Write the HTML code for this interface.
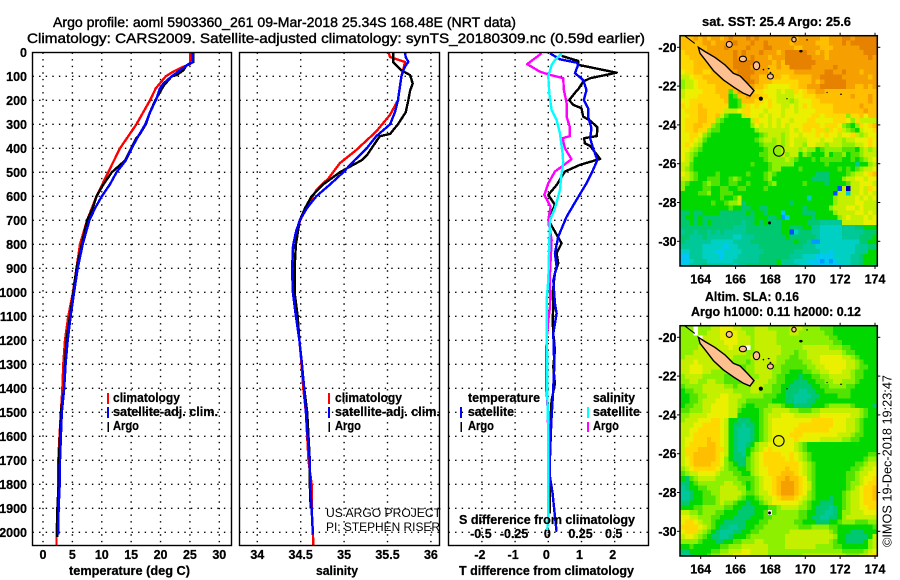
<!DOCTYPE html>
<html lang="en">
<head>
<meta charset="utf-8">
<title>Argo profile 5903360_261</title>
<style>
html,body{margin:0;padding:0;background:#fff;width:900px;height:580px;overflow:hidden}
svg{display:block}
text{font-family:"Liberation Sans",sans-serif;fill:#000}
.b{font-weight:bold;font-size:12.5px;stroke:#000;stroke-width:.25px}
.t{font-size:14px;stroke:#000;stroke-width:.4px}
</style>
</head>
<body>
<svg id="chart" xmlns="http://www.w3.org/2000/svg" width="900" height="580" viewBox="0 0 900 580">
<text class="t" x="53" y="27" textLength="463" lengthAdjust="spacingAndGlyphs">Argo profile: aoml 5903360_261 09-Mar-2018 25.34S 168.48E (NRT data)</text>
<text class="t" x="27" y="43" textLength="618" lengthAdjust="spacingAndGlyphs">Climatology: CARS2009. Satellite-adjusted climatology: synTS_20180309.nc (0.59d earlier)</text>

<g id="gridLayer"></g>
<g id="tickLayer"></g>
<g id="lineLayer"></g>

<rect x="32.5" y="52.5" width="199" height="493" fill="none" stroke="#000" stroke-width="1.4"/>
<rect x="239.5" y="52.5" width="200" height="493" fill="none" stroke="#000" stroke-width="1.4"/>
<rect x="448.5" y="52.5" width="200" height="493" fill="none" stroke="#000" stroke-width="1.4"/>

<text class="b" x="69" y="575" textLength="121" lengthAdjust="spacingAndGlyphs">temperature (deg C)</text>
<text class="b" x="316" y="575" textLength="42" lengthAdjust="spacingAndGlyphs">salinity</text>
<text class="b" x="459" y="575" textLength="175" lengthAdjust="spacingAndGlyphs">T difference from climatology</text>
<text class="b" x="459" y="524" textLength="176" lengthAdjust="spacingAndGlyphs">S difference from climatology</text>

<g>
<rect x="107" y="393" width="2" height="11" fill="#f00"/>
<text class="b" x="113" y="402" textLength="67" lengthAdjust="spacingAndGlyphs">climatology</text>
<rect x="107" y="407" width="2" height="11" fill="#00f"/>
<text class="b" x="113" y="416" textLength="105" lengthAdjust="spacingAndGlyphs">satellite-adj. clim.</text>
<rect x="107.5" y="422" width="1.5" height="10" fill="#000"/>
<text class="b" x="113" y="430" textLength="26" lengthAdjust="spacingAndGlyphs">Argo</text>
</g>
<g>
<rect x="328" y="393" width="2" height="11" fill="#f00"/>
<text class="b" x="335" y="402" textLength="67" lengthAdjust="spacingAndGlyphs">climatology</text>
<rect x="328" y="407" width="2" height="11" fill="#00f"/>
<text class="b" x="335" y="416" textLength="105" lengthAdjust="spacingAndGlyphs">satellite-adj. clim.</text>
<rect x="328.5" y="422" width="1.5" height="10" fill="#000"/>
<text class="b" x="335" y="430" textLength="26" lengthAdjust="spacingAndGlyphs">Argo</text>
</g>
<g>
<text class="b" x="468" y="402" textLength="72" lengthAdjust="spacingAndGlyphs">temperature</text>
<rect x="460" y="407" width="2" height="11" fill="#00f"/>
<text class="b" x="468" y="416" textLength="46" lengthAdjust="spacingAndGlyphs">satellite</text>
<rect x="460.5" y="422" width="1.5" height="10" fill="#000"/>
<text class="b" x="468" y="430" textLength="26" lengthAdjust="spacingAndGlyphs">Argo</text>
<text class="b" x="593" y="402" textLength="42" lengthAdjust="spacingAndGlyphs">salinity</text>
<rect x="587" y="407" width="2" height="11" fill="#0ff"/>
<text class="b" x="593" y="416" textLength="47" lengthAdjust="spacingAndGlyphs">satellite</text>
<rect x="587" y="422" width="2" height="10" fill="#f0f"/>
<text class="b" x="593" y="430" textLength="26" lengthAdjust="spacingAndGlyphs">Argo</text>
</g>

<text x="326" y="517" font-size="12" textLength="115" lengthAdjust="spacingAndGlyphs">US ARGO PROJECT</text>
<text x="326" y="531" font-size="12" textLength="114" lengthAdjust="spacingAndGlyphs">PI: STEPHEN RISER</text>

<g id="mapLayer"></g>

<text class="b" x="702" y="26" textLength="149" lengthAdjust="spacingAndGlyphs">sat. SST: 25.4 Argo: 25.6</text>
<text class="b" x="705" y="301" textLength="94" lengthAdjust="spacingAndGlyphs">Altim. SLA: 0.16</text>
<text class="b" x="691" y="316" textLength="170" lengthAdjust="spacingAndGlyphs">Argo h1000: 0.11 h2000: 0.12</text>
<text x="891.5" y="547" font-size="12.5" textLength="172" lengthAdjust="spacingAndGlyphs" transform="rotate(-90 891.5 547)">©IMOS 19-Dec-2018 19:23:47</text>
</svg>

<script>
// ---- axis tick data ----
const depthTicks = [0,100,200,300,400,500,600,700,800,900,1000,1100,1200,1300,1400,1500,1600,1700,1800,1900,2000];
const tempTicks = [0,5,10,15,20,25,30];
const salTicks = [34,34.5,35,35.5,36];
const diffTTicks = [-2,-1,0,1,2];
const diffSTicks = [-0.5,-0.25,0,0.25,0.5];
const diffTLabels = ['-2','-1','0','1','2'];
const diffSLabels = ['-0.5','-0.25','0','0.25','0.5'];
const lonTicks = [164,166,168,170,172,174];
const latTicks = [-20,-22,-24,-26,-28,-30];

// ---- temperature profiles ----
const tempClimDepth = [0,50,60,80,100,150,200,300,400,500,600,700,800,900,1000,1100,1200,1300,1400,1500,1600,1700,1800,1900,2000,2055];
const tempClimValues = [25.1,25,23.9,22.2,20.9,19.2,18.2,15.9,13.1,11.1,9.1,7.5,6.3,5.7,5.1,4.3,3.75,3.45,3.3,3.05,2.8,2.6,2.6,2.5,2.3,2.3];
const tempSatDepth = [0,40,50,70,100,130,150,200,250,300,350,400,450,500,550,600,650,700,800,900,1000,1100,1200,1300,1400,1500,1600,1700,1800,1900,2010];
const tempSatValues = [25.5,25.5,24.7,23.6,21.9,20.5,19.9,19.2,18.2,17.4,16.2,15.1,14.1,12.5,11.4,10,8.85,7.9,6.75,5.9,5.3,4.7,4.2,3.85,3.6,3.2,3.05,2.9,2.85,2.65,2.6];
const tempArgoDepth = [0,40,55,75,95,100,140,170,200,250,300,340,360,400,450,500,550,600,650,700,800,900,1000,1100,1200,1300,1400,1500,1600,1700,1800,1900,2020];
const tempArgoValues = [25.6,25.6,24.4,23.9,22.7,21.9,20.5,19.8,19.1,18.2,17.5,16.5,15.8,15,14,11.7,10.3,9.1,8.45,7.5,6.6,5.7,5.15,4.6,4,3.75,3.6,3.05,2.9,2.7,2.65,2.45,2.45];

// ---- salinity profiles ----
const salClimDepth = [0,20,40,60,100,200,260,330,407,462,525,574,670,740,810,893,1000,1100,1200,1300,1400,1500,1600,1700,1800,1900,2000,2055];
const salClimValues = [35.51,35.53,35.7,35.69,35.66,35.62,35.53,35.37,35.14,34.95,34.82,34.68,34.53,34.45,34.41,34.41,34.41,34.445,34.485,34.51,34.53,34.56,34.575,34.59,34.625,34.625,34.64,34.645];
const salSatDepth = [0,20,40,60,100,150,200,250,300,350,400,450,500,550,600,650,700,750,800,900,1000,1100,1200,1300,1400,1500,1600,1700,1800,1900,2010];
const salSatValues = [35.7,35.71,35.74,35.7,35.66,35.64,35.62,35.585,35.53,35.37,35.26,35.12,34.99,34.84,34.68,34.57,34.49,34.445,34.415,34.4,34.41,34.445,34.485,34.515,34.54,34.56,34.58,34.605,34.61,34.625,34.64];
const salArgoDepth = [0,40,55,75,95,130,160,200,250,300,340,350,390,430,450,480,500,550,600,650,700,800,900,1000,1100,1200,1300,1400,1500,1600,1700,1800,1900];
const salArgoValues = [35.565,35.565,35.605,35.66,35.76,35.79,35.76,35.74,35.71,35.62,35.53,35.41,35.335,35.26,35.2,35.05,34.95,34.76,34.625,34.55,34.49,34.445,34.43,34.43,34.465,34.485,34.515,34.54,34.575,34.59,34.605,34.605,34.615];

// ---- difference profiles ----
const dTArgoDepth = [15,36,52,85,108,122,154,164,199,219,233,268,285,312,349,358,379,390,444,469,497,553,594,636,699,796,837,879,921,1004,1061,1116,1172,1241,1311,1380,1450,1519,1616,1686,1783,1866,1922];
const dTArgoValues = [0.4,0.9,0.9,2.06,1.26,1.05,0.9,0.83,0.63,0.75,1,1.05,1.26,1.48,1.46,1.08,1.1,1.26,1.56,0.95,0.5,0.25,0,0.2,0,0.4,0.25,0.3,0.2,0.13,0.15,0.13,0.15,0.2,0.15,0.2,0.1,0.07,0.07,0.05,0.03,0.05,0.05];
const dTSatDepth = [4,29,43,52,87,115,157,199,233,268,317,358,400,449,504,546,615,685,768,837,893,949,1046,1088,1172,1311,1450,1519,1658,1769,1838,1908,1998];
const dTSatValues = [0.05,0.35,0.85,0.9,0.8,1.05,1.15,1.07,1.2,1.2,1.3,1.26,1.35,1.48,1.3,1.15,0.85,0.55,0.3,0.2,0.25,0.15,0.2,0.25,0.15,0.18,0.13,0.1,0.05,0.05,0.13,0.18,0.25];
const dSArgoDepth = [4,49,81,92,108,157,212,268,312,349,358,400,446,497,546,594,643,699,782,921,1060,1116,1199,1297,1394,1450,1589,1922];
const dSArgoValues = [-0.05,-0.16,-0.0625,0,0.1125,0.1175,0.1375,0.1375,0.1625,0.1625,0.1075,0.125,0.175,0.05,0,-0.03,0.0175,0,0.025,0.0125,0.0125,0,-0.0125,-0.0175,-0.0175,-0.0075,0,0];
const dSSatDepth = [4,32,53,101,171,240,282,337,421,462,504,574,650,699,837,949,1032,1116,1311,1422,1589,1922,1991];
const dSSatValues = [0.1,0.05,0.025,0,0.0075,0.025,0.0625,0.0875,0.1075,0.1125,0.1,0.0875,0.05,0.0125,0.005,0,-0.0125,-0.0125,-0.0075,-0.0075,0,0,-0.0075];

// ---- map data: one character per 0.25 degree cell (palette key below) ----
const sstRows = [
"bbbcbcbccbcdcccdcdccccccccbcccccbbcccddcdddddd",
"bbbbbccbccccdcccdccdcccccbcccccbbbcccdcddddddd",
"bbbbbbccccdccccdcccddcccccbbccccbbbccccccddddd",
"abbbbbccccccdcdcccdcccbcdddddccbcbccccccccdddd",
"aabbbbbcccccdcdcdcccbcccddddddcccbcccccccccdcd",
"aaabbbbcccccdddddccccbcbdddddddccccccccccccccd",
"aaabbbbbbcccddddccccbbcbbdddddcccccdcccccccccc",
"9aabbaabbbcccddddcccbbbbbbcccccccddccdcccbcccb",
"889aabbbbbccccddccbbbbbaabbbbbccdddddccccccbcc",
"7889aabbbbbccccddcbbbaaaaaabbbcbcdddddcccccccb",
"7889aaaabbbbcccbcbba99999aabbcccddddddccbbcbcc",
"89999aaabbb6bcccbaa9998988a9abbccbbbbbbbbbbbbb",
"8999aaaaabb56bbcbbaa99888899aaabbbbbbbbcbbbcbb",
"99aaaaaaaab556bbbaa9a988878999aabbbbbbbbbbbcbb",
"a9aabaaaaaa5568a9a99a9988989a9aaaaabbbbbbcbbbb",
"9aaabbaaaa8889aa999899989989999aaaabbbbbbbcbbb",
"99aabbaab865558a99898998999999aa9aaaaa7aab9bbb",
"9aaabbaa765555558a99898998999aa9999aaa97a8888b",
"9aabbaa765555555798989898999aaaa9aaa97657a9aba",
"9aabaa7665555555578888888989aa9aa8a9a8765899ab",
"99aa9765555555555567888"+"78998999a9a99899a87899a",
"99a98655555555555678878"+"78988899989988788999a9a",
"9a987555555555555567778"+"78988799887888777889a99",
"99876555555555555556777"+"88887877567777666578789",
"98765555555555555566777"+"87885765557566756678889",
"9875555555555555555677778765556566666556567899",
"8865555555555555655567777755555556555555355788",
"8765555555555555555567755556555555556565678899",
"9876555565555556555676555555555444555567889ab9",
"8876556665567655555675555555554444555788998999",
"7655567665566556555567555555655554555568899989",
"75555665566556655556555"+"5555555555555m8n8898a99",
"55556675566655555555555"+"555555555555m8828898989",
"5555555556556855555555555555525555578888989895",
"5555555655677845555555555455555555578888998889",
"5555555555565544554455555555455555788899898885",
"4454455554444445455455515555444555578888998988",
"4554544444444444455544501555554555557898889898",
"4454545444444434454544455555544433333888889997",
"4444444444443334444444455444553322222333445555",
"3443443434333334444444455m24443322222333334445",
"4433343333332233344444445444444322222333344455",
"4333333222223333444444444454430022222222244555",
"3333322222122333334444444444333222222222333445",
"2233322211222233333444444433333322122222333555",
"1133322221222333334444444333222111122223345554",
"1123332222223333334444533322211101012223345555",
"1233343333332334444444533332221111111223345545"
];
const slaRows = [
"777w777889998877788877777888777766655555555555",
"777w778889999887788888777887777776655555555555",
"7777w88889999888788888777777777777665555555555",
"7777788888999888788888777777777777766555555555",
"777788888889888w788888877777888888777665555555",
"7778888888888887788888877767788888888766555555",
"7888888888887777888888777667788899999887655555",
"8889888888877776788888776666778899999988765555",
"8899988887777667788887766666677889999988766555",
"8899988777776667788887766555667788999887665555",
"7888877777666667778887665554556677888887665555",
"7788778877666677788877665544455667788777655555",
"6777788888776777888776655444445566777766555555",
"5667788888887777887776654443344556666665555555",
"5566778889988877777666554433334455556665555555",
"5566788899988776666665554433344555555555555554",
"5667788999988765566677765544445556777776555544",
"6677788999988655556778888776667788888888876554",
"7788889999988555556788899988888899999998876555",
"7888999aa98"+"5544455"+"6789"+"99999999"+"aaaaa"+"99988"+"765555",
"88899aaaa98"+"5443445"+"6789"+"99999aaa"+"aaaaa"+"99988"+"765555",
"8899aaaaa98"+"5433345"+"6789"+"9999aaaa"+"aaaa9"+"99988"+"765555",
"889aaaaaa98"+"5433345"+"6789"+"999aaa99"+"99999"+"98887"+"665555",
"899aaabaa98"+"5433345"+"6789"+"9999a999"+"99888"+"88776"+"655555",
"89aaaabba98"+"5433"+"4578"+"8999999876"+"555555"+"55555"+"555555",
"8aaabbbbaa8"+"5433"+"5678"+"9a99999876"+"555555"+"55555"+"555555",
"8aabbbbba98"+"5443"+"5789"+"aaaa99a987"+"655555"+"55555"+"555667",
"89abbbbba97"+"5444"+"6789"+"aaaaa9a987"+"655555"+"55555"+"556778",
"89abbbbaa97"+"6544"+"6789"+"aaaaaaaa98"+"765555"+"55555"+"667889",
"789aaaaa987"+"6655"+"6789"+"9aaaabaa98"+"765555"+"55556"+"678899",
"67889999877"+"7665"+"5789"+"9aaabbba98"+"765555"+"55566"+"788999",
"54678888777"+"7766"+"6678"+"99abbcbba9"+"765555"+"55566"+"7899a9",
"44567777778"+"8776"+"5678"+"99abcccba9"+"865555"+"55567"+"789aaa",
"34556677788"+"8877"+"5678"+"99abcccba9"+"865555"+"55567"+"89aaba",
"33455667788"+"8887"+"6678"+"89abcccba9"+"765555"+"55678"+"89aaba",
"33455666788"+"8876"+"5567"+"889abbba98"+"765554"+"55678"+"89aaba",
"44555666787"+"7655"+"4556"+"7899999987"+"655444"+"55678"+"89aaa9",
"55566777776"+"6554445"+"5566"+"78888776"+"54443"+"45678"+"899aa9",
"88776777665"+"5544445"+"56w6"+"77777665"+"54433"+"45778"+"889998",
"99887776655"+"5444455"+"5667"+"77777665"+"44334"+"45788"+"888887",
"9aa98776554"+"4444555"+"6677"+"77776655"+"54445"+"56777"+"666777",
"aaaa9876544"+"3344556"+"6777"+"77777666"+"77776"+"65555"+"555567",
"9aaa8765433"+"3445566"+"7777"+"77788888"+"88887"+"65554"+"445556",
"89987654433"+"4555677"+"7777"+"77888888"+"88888"+"75544"+"444589",
"77776555445"+"5667778"+"8777"+"77888888"+"88887"+"65544"+"445789",
"55655555566"+"7778888"+"8877"+"77888888"+"87777"+"66555"+"555789",
"44555556677"+"8889988"+"8877"+"77777777"+"77777"+"77666"+"667899",
"33455567788"+"8999988"+"8877"+"77777788"+"88888"+"88877"+"7889aa"
];
const cellSize = 0.25;
const originLon = 162.85;
const originLat = -19.4;

// ---- map geography, degrees ----
const mainLandLon = [163.87,164.25,164.82,165.4,165.87,166.26,166.68,167.06,166.83,166.45,165.91,165.3,164.73,164.34,163.96];
const mainLandLat = [-20,-20.22,-20.52,-20.91,-21.34,-21.48,-21.86,-22.23,-22.51,-22.37,-22.06,-21.68,-21.2,-20.74,-20.31];
const reefLineLon = [163.1,163.66];
const reefLineLat = [-19.42,-19.8];
const islandLon = [165.64,166.42,167.2,168.0,167.45,169.35,169.75,170.1,171.25,172.05,168.95,167.95,167.6,167.9,168.0];
const islandLat = [-19.85,-20.6,-20.95,-21.5,-22.65,-19.6,-20.2,-19.62,-22.33,-22.42,-22.65,-29.05,-21.15,-21.1,-21.3];
const islandRx = [3,3.6,3.2,3,1.9,2.2,1.6,.6,.5,.8,.5,1.3,.6,.8,.8];
const islandRy = [3,2.8,4,2.6,1.9,2.4,1.1,.6,.5,.5,.5,1.4,.6,.5,.5];
const argoLon = 168.48;
const argoLat = -25.34;

// ---- scales ----
const yD = d => 52.3 + d * 0.24;
const xT = v => 43 + v * 5.877;
const xS = v => 257.3 + (v - 34) * 86.8;
const xDT = v => 548.3 + v * 33.2;
const xDS = v => 548.3 + v * 132.8;
const lonX = lon => 700.7 + (lon - 164) * 17.43;
const latY = (lat, top) => top + 11.6 + (-20 - lat) * 19.4;

const NS = 'http://www.w3.org/2000/svg';
function mk(tag, attrs, parent) {
  const el = document.createElementNS(NS, tag);
  for (const k in attrs) el.setAttribute(k, attrs[k]);
  parent.appendChild(el);
  return el;
}
const gridLayer = document.getElementById('gridLayer');
const tickLayer = document.getElementById('tickLayer');
const lineLayer = document.getElementById('lineLayer');
const mapLayer = document.getElementById('mapLayer');

const dots = {stroke:'#000','stroke-width':1.4,'stroke-dasharray':'1.4 5.2'};
function gridLine(x1, y1, x2, y2) {
  const el = mk('line', Object.assign({x1, y1, x2, y2}, dots), gridLayer);
  
  
}
function label(txt, x, y, anchor) {
  const el = mk('text', {x, y, class:'b', 'text-anchor':anchor}, tickLayer);
  el.textContent = txt;
  
  
}
const panels = [[32.5,231.5],[239.5,439.5],[448.5,648.5]];
panels.forEach(p => depthTicks.forEach(d => { if (d > 0) gridLine(p[0], yD(d), p[1], yD(d)); }));
depthTicks.forEach(d => label(String(d), 27, yD(d) + 4.5, 'end'));
tempTicks.forEach(v => { gridLine(xT(v), 52.5, xT(v), 545.5); label(String(v), xT(v), 559, 'middle'); });
salTicks.forEach(v => { gridLine(xS(v), 52.5, xS(v), 545.5); label(String(v), xS(v), 559, 'middle'); });
diffTTicks.forEach((v, i) => { gridLine(xDT(v), 52.5, xDT(v), 545.5); label(diffTLabels[i], xDT(v) - 2, 559, 'middle'); });
diffSTicks.forEach((v, i) => label(diffSLabels[i], xDS(v) - 1, 538, 'middle'));

function profile(depths, values, xf, color, width, name) {
  const pts = depths.map((d, i) => xf(values[i]).toFixed(1) + ',' + yD(d).toFixed(1)).join(' ');
  const el = mk('polyline', {points:pts, fill:'none', stroke:color, 'stroke-width':width, 'stroke-linejoin':'round', 'shape-rendering':'crispEdges'}, lineLayer);
  
  
}
profile(tempClimDepth, tempClimValues, xT, '#f00', 2.4, 'temperature-climatology-line');
profile(tempArgoDepth, tempArgoValues, xT, '#000', 2.4, 'temperature-argo-line');
profile(tempSatDepth, tempSatValues, xT, '#00f', 2.4, 'temperature-satellite-line');
profile(salClimDepth, salClimValues, xS, '#f00', 2.4, 'salinity-climatology-line');
profile(salArgoDepth, salArgoValues, xS, '#000', 2.4, 'salinity-argo-line');
profile(salSatDepth, salSatValues, xS, '#00f', 2.4, 'salinity-satellite-line');
profile(dTArgoDepth, dTArgoValues, xDT, '#000', 2.4, 't-difference-argo-line');
profile(dTSatDepth, dTSatValues, xDT, '#00f', 2.4, 't-difference-satellite-line');
profile(dSArgoDepth, dSArgoValues, xDS, '#f0f', 2.4, 's-difference-argo-line');
profile(dSSatDepth, dSSatValues, xDS, '#0ff', 2.4, 's-difference-satellite-line');

// ---- maps ----
const palette = {n:'#0000b4',m:'#0050ff','0':'#009bff','1':'#00c8f0','2':'#00d0c4','3':'#00c898','4':'#00c870','5':'#00d800','6':'#50e400','7':'#8cf000','8':'#c4f000','9':'#eaf000',a:'#ffd800',b:'#ffbe00',c:'#f5a000',d:'#e68200',w:'#ffffff'};
function drawMap(rows, top, cellName, idx) {
  const left = 680, w = 197.3, h = 230.3;
  const g = mk('g', {}, mapLayer);
  
  
  const clip = mk('clipPath', {id:'clip' + idx}, g);
  mk('rect', {x:left, y:top, width:w, height:h}, clip);
  const cells = mk('g', {'clip-path':'url(#clip' + idx + ')', 'shape-rendering':'crispEdges'}, g);
  rows.forEach((row, r) => {
    for (let c = 0; c < 46; c++) {
      const ch = row[c] || row[row.length - 1];
      const lon = originLon + c * cellSize;
      const lat = originLat - r * cellSize;
      const rect = mk('rect', {x:lonX(lon).toFixed(2), y:latY(lat, top).toFixed(2), width:4.8, height:5.3, fill:palette[ch] || palette['7']}, cells);
      
      
    }
  });
  const land = mainLandLon.map((lon, i) => lonX(lon).toFixed(1) + ',' + latY(mainLandLat[i], top).toFixed(1)).join(' ');
  const mainland = mk('polygon', {points:land, fill:'#ffc090', stroke:'#000', 'stroke-width':1.4}, g);
  
  
  const reef = mk('polyline', {points:reefLineLon.map((lon, i) => lonX(lon) + ',' + latY(reefLineLat[i], top)).join(' '), fill:'none', stroke:'#000', 'stroke-width':1}, g);
  
  
  islandLon.forEach((lon, i) => {
    const small = islandRx[i] < 2;
    const isle = mk('ellipse', {cx:lonX(lon), cy:latY(islandLat[i], top), rx:islandRx[i], ry:islandRy[i], fill:small ? '#000' : '#ffc090', stroke:'#000', 'stroke-width':small ? 0.4 : 1.1}, g);
    
    
  });
  const frame = mk('rect', {x:left, y:top, width:w, height:h, fill:'none', stroke:'#000', 'stroke-width':1.5}, g);
  
  
  const mark = mk('circle', {cx:lonX(argoLon), cy:latY(argoLat, top), r:5.3, fill:'none', stroke:'#000', 'stroke-width':1.1}, g);
  
  
  lonTicks.forEach(lon => {
    const x = lonX(lon);
    [[top - 3, top], [top + h, top + h + 3]].forEach(s => {
      const t = mk('line', {x1:x, x2:x, y1:s[0], y2:s[1], stroke:'#000', 'stroke-width':1}, g);
      
      
    });
    const tl = mk('text', {x:x, y:top + h + 17.5, class:'b', 'text-anchor':'middle'}, g);
    tl.textContent = String(lon);
    
    
  });
  latTicks.forEach(lat => {
    const y = latY(lat, top);
    [[left - 3, left], [left + w, left + w + 3]].forEach(s => {
      const t = mk('line', {x1:s[0], x2:s[1], y1:y, y2:y, stroke:'#000', 'stroke-width':1}, g);
      
      
    });
    const tl = mk('text', {x:676.5, y:y + 4.5, class:'b', 'text-anchor':'end'}, g);
    tl.textContent = String(lat);
    
    
  });
}
drawMap(sstRows, 35.7, 'sst', 1);
drawMap(slaRows, 325.7, 'sla', 2);
</script>
</body>
</html>
